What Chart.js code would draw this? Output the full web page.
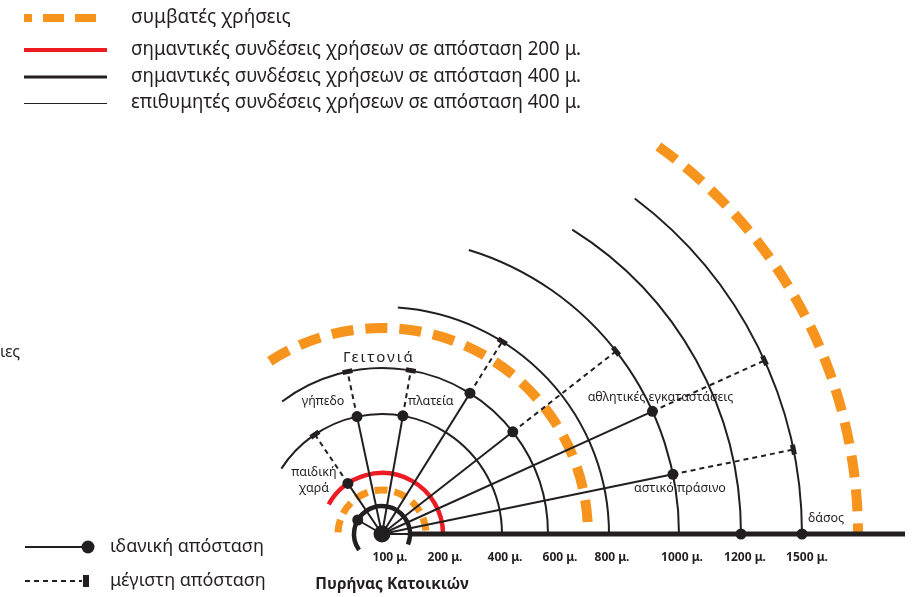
<!DOCTYPE html>
<html>
<head>
<meta charset="utf-8">
<script src="https://cdn.jsdelivr.net/npm/chart.js@4.4.1/dist/chart.umd.min.js"></script>
<style>
html, body { margin: 0; padding: 0; background: #fff; }
#wrap { width: 922px; height: 597px; }
</style>
</head>
<body>
<div id="wrap"><canvas id="chartInfo" width="922" height="597"></canvas></div>
<script>
//distance rings: label, radius (chart units), arc start / end angle (deg)
var ringLabels = ['100 μ.', '200 μ.', '400 μ.', '600 μ.', '800 μ.', '1000 μ.', '1200 μ.', '1500 μ.']
var ringRadius = [28, 61, 120, 166, 227, 297, 359, 420]
var ringFrom = [215, 151, 147, 127, 86, 73, 58, 53]
var ringTo = [-22, 0, 0, 0, 0, 0, 0, 0]

//compatible uses (orange dashed arcs)
var compatRadius = [44, 206, 476]
var compatFrom = [178, 123, 54.5]

//uses: direction, ideal distance, maximum distance
var useNames = [[], ['παιδική', 'χαρά'], ['γήπεδο'], ['πλατεία'], [], [], ['αθλητικές εγκαταστάσεις'], ['αστικό πράσινο'], [], ['δάσος']]
var useAngle = [150, 124, 102, 80, 58, 38, 24.4, 11.6, 0, 0]
var useIdeal = ['100 μ.', '200 μ.', '400 μ.', '400 μ.', '600 μ.', '600 μ.', '1000 μ.', '1000 μ.', '1200 μ.', '1500 μ.']
var useMax = [null, '400 μ.', '600 μ.', '600 μ.', '800 μ.', '1000 μ.', '1500 μ.', '1500 μ.', null, null]

//legend texts
var legendTop = ['συμβατές χρήσεις', 'σημαντικές συνδέσεις χρήσεων σε απόσταση 200 μ.', 'σημαντικές συνδέσεις χρήσεων σε απόσταση 400 μ.', 'επιθυμητές συνδέσεις χρήσεων σε απόσταση 400 μ.']
var legendBottom = ['ιδανική απόσταση', 'μέγιστη απόσταση']
var areaTitle = 'Γειτονιά'
var coreTitle = 'Πυρήνας Κατοικιών'

var BLACK = '#231f20'
var ORANGE = '#f7941d'
var RED = '#ed1c24'

function polar(dist, deg) {
    var r = ringRadius[ringLabels.indexOf(dist)]
    var a = deg * Math.PI / 180
    return { x: r * Math.cos(a), y: r * Math.sin(a) }
}

//building datasets
var datasets = []
var idealPts = [], maxPts = [], maxRot = []
for (var i = 0; i < useAngle.length; i++) {
    var p = polar(useIdeal[i], useAngle[i])
    idealPts.push(p)
    datasets.push({ data: [{ x: 0, y: 0 }, p], showLine: true, borderColor: BLACK, borderWidth: 2, pointRadius: 0 })
    if (useMax[i]) {
        var q = polar(useMax[i], useAngle[i])
        maxPts.push(q)
        maxRot.push(90 - useAngle[i])
        datasets.push({ data: [p, q], showLine: true, borderColor: BLACK, borderWidth: 2, borderDash: [5, 4], pointRadius: 0 })
    }
}
datasets.push({ data: idealPts, pointRadius: 5.5, pointBackgroundColor: BLACK, pointBorderWidth: 0 })
datasets.push({ data: maxPts, pointStyle: 'line', pointRadius: 5, pointBorderWidth: 5, pointBorderColor: BLACK, pointRotation: maxRot })
datasets.push({ data: [{ x: 0, y: 0 }], pointRadius: 8.5, pointBackgroundColor: BLACK, pointBorderWidth: 0 })

//label offsets (px) from the ideal point
var labelShift = [null, [-34, -11], [-34, -15], [28, -14], null, null, [8, -14], [7, 14], null, [24, -16]]
var tickShift = [-20, 2, 3, 12, 3, 3, 4, 5]

var diagram = {
    id: 'diagram',
    beforeDatasetsDraw: function (chart) {
        var ctx = chart.ctx, sx = chart.scales.x, sy = chart.scales.y
        var cx = sx.getPixelForValue(0), cy = sy.getPixelForValue(0)
        var k = sx.getPixelForValue(1) - cx
        ctx.save()
        // orange compatible uses
        ctx.strokeStyle = ORANGE
        ctx.lineCap = 'butt'
        for (var i = 0; i < compatRadius.length; i++) {
            ctx.lineWidth = i == 0 ? 7 : 10
            ctx.setLineDash(i == 0 ? [13, 7] : [22, 12])
            ctx.beginPath()
            ctx.arc(cx, cy, compatRadius[i] * k, -compatFrom[i] * Math.PI / 180, 0)
            ctx.stroke()
        }
        ctx.setLineDash([])
        // rings
        for (var j = 0; j < ringRadius.length; j++) {
            ctx.strokeStyle = j == 1 ? RED : BLACK
            ctx.lineWidth = j < 2 ? 4.5 : 2
            ctx.beginPath()
            ctx.arc(cx, cy, ringRadius[j] * k, -ringFrom[j] * Math.PI / 180, -ringTo[j] * Math.PI / 180)
            ctx.stroke()
        }
        // baseline
        ctx.strokeStyle = BLACK
        ctx.lineWidth = 5
        ctx.beginPath()
        ctx.moveTo(cx + ringRadius[0] * k, cy)
        ctx.lineTo(sx.getPixelForValue(523), cy)
        ctx.stroke()
        ctx.restore()
    },
    afterDatasetsDraw: function (chart) {
        var ctx = chart.ctx, sx = chart.scales.x, sy = chart.scales.y
        var cx = sx.getPixelForValue(0), cy = sy.getPixelForValue(0)
        var k = sx.getPixelForValue(1) - cx
        ctx.save()
        ctx.fillStyle = BLACK
        ctx.textBaseline = 'middle'
        // use labels
        ctx.textAlign = 'center'
        ctx.font = '12.5px "Noto Sans"'
        for (var i = 0; i < useNames.length; i++) {
            if (!useNames[i].length) continue
            var p = idealPts[i]
            var px = sx.getPixelForValue(p.x) + labelShift[i][0]
            var py = sy.getPixelForValue(p.y) + labelShift[i][1]
            for (var l = 0; l < useNames[i].length; l++) {
                ctx.fillText(useNames[i][l], px, py + l * 16, useNames[i][l].length > 12 ? 148 : 90)
            }
        }
        // distance ticks
        ctx.font = 'bold 12px "Noto Sans"'
        for (var j = 0; j < ringLabels.length; j++) {
            ctx.fillText(ringLabels[j], cx + ringRadius[j] * k + tickShift[j], 558)
        }
        ctx.font = 'bold 15.5px "Noto Sans"'
        ctx.fillText(coreTitle, 392, 585, 158)
        ctx.font = '15px "Noto Sans"'
        ctx.letterSpacing = '2px'
        ctx.fillText(areaTitle, 379, 358)
        ctx.letterSpacing = '0px'
        // partial text at left edge
        ctx.textAlign = 'left'
        ctx.font = '16px "Noto Sans"'
        ctx.fillText('ιες', 0, 352)

        // top legend
        var ly = [18, 50, 77, 103]
        ctx.font = '19px "Noto Sans"'
        for (var t = 0; t < legendTop.length; t++) {
            ctx.fillText(legendTop[t], 131, ly[t], t == 0 ? 160 : 450)
        }
        ctx.strokeStyle = ORANGE
        ctx.lineWidth = 8
        ctx.setLineDash([21, 11])
        ctx.lineDashOffset = 13
        ctx.beginPath(); ctx.moveTo(24, ly[0]); ctx.lineTo(107, ly[0]); ctx.stroke()
        ctx.setLineDash([])
        ctx.lineDashOffset = 0
        ctx.strokeStyle = RED; ctx.lineWidth = 4
        ctx.beginPath(); ctx.moveTo(24, ly[1]); ctx.lineTo(107, ly[1]); ctx.stroke()
        ctx.strokeStyle = BLACK; ctx.lineWidth = 3
        ctx.beginPath(); ctx.moveTo(24, ly[2]); ctx.lineTo(107, ly[2]); ctx.stroke()
        ctx.lineWidth = 1
        ctx.beginPath(); ctx.moveTo(24, ly[3] + 0.5); ctx.lineTo(107, ly[3] + 0.5); ctx.stroke()

        // bottom legend
        var by = [547, 581]
        ctx.font = '18px "Noto Sans"'
        ctx.fillText(legendBottom[0], 110, by[0])
        ctx.fillText(legendBottom[1], 110, by[1])
        ctx.lineWidth = 2
        ctx.beginPath(); ctx.moveTo(25, by[0]); ctx.lineTo(86, by[0]); ctx.stroke()
        ctx.beginPath(); ctx.arc(88, by[0], 6.5, 0, Math.PI * 2); ctx.fill()
        ctx.setLineDash([5, 4])
        ctx.beginPath(); ctx.moveTo(25, by[1]); ctx.lineTo(82, by[1]); ctx.stroke()
        ctx.setLineDash([])
        ctx.fillRect(83, by[1] - 6, 6, 12)
        ctx.restore()
    }
}

var canvas = document.getElementById('chartInfo')
var ctx = canvas.getContext('2d')
var myChart = new Chart(ctx, {
    type: 'scatter',
    data: { datasets: datasets },
    options: {
        responsive: false,
        animation: false,
        layout: { padding: 0, autoPadding: false },
        plugins: { legend: { display: false }, tooltip: { enabled: false } },
        scales: {
            x: { type: 'linear', min: -382, max: 540, display: false },
            y: { type: 'linear', min: -63, max: 534, display: false }
        }
    },
    plugins: [diagram]
})
</script>
</body>
</html>
